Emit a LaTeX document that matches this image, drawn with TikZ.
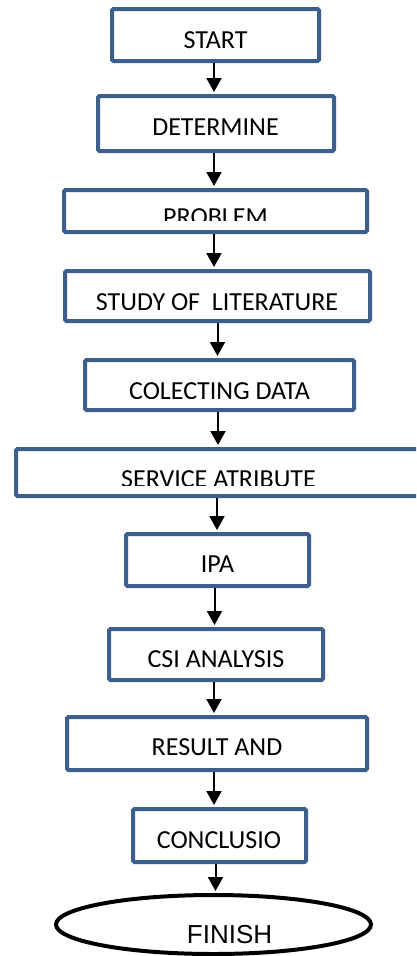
\documentclass[tikz,border=0pt]{standalone}
\usepackage{fontspec}
\setmainfont{Carlito}
\newfontfamily\arialfont{Liberation Sans}
\usetikzlibrary{arrows.meta,shapes.geometric}
\definecolor{boxblue}{RGB}{61,95,142}
\tikzset{
  boxnode/.style={draw=boxblue, line width=4pt, rounded corners=1.5pt, inner sep=0pt, fill=white},
  lbl/.style={anchor=base, inner sep=0pt, font=\fontsize{26}{30}\selectfont},
  arr/.style={line width=2pt, -{Triangle[length=14pt,width=15pt]}, shorten >=2pt}
}
\newcommand\mybox[5]{%
  \node[boxnode, minimum width={(#4-#2-4)*1pt}, minimum height={(#5-#3-4)*1pt}] (#1) at ({(#2+#4)/2},{(#3+#5)/2}) {};}
\begin{document}
\begin{tikzpicture}[x=1pt,y=-1pt]
\clip (0,0) rectangle (416,956);
\useasboundingbox (0,0) rectangle (416,956);
\fill[white] (0,0) rectangle (416,956);
\mybox{start}{110}{7}{321}{63}
\mybox{determine}{96}{94}{336}{153}
\mybox{problem}{62}{188}{369}{234}
\mybox{study}{63}{269}{372}{323}
\mybox{collect}{83}{358}{356}{412}
\mybox{service}{14}{447}{424}{498}
\mybox{ipa}{124}{532}{311}{588}
\mybox{csi}{107}{627}{325}{682}
\mybox{result}{65}{715}{369}{772}
\mybox{concl}{131}{807}{308}{864}
\node[draw=black, line width=4pt, ellipse, minimum width=315pt, minimum height=59pt, inner sep=0pt] (finish) at (213.5,924.5) {};
% labels
\node[lbl] (tstart) at (215.5,48.3) {START};
\node[lbl] (tdet) at (215.5,135) {DETERMINE};
\begin{scope}
\clip (60,180) rectangle (370,220);
\node[lbl] (tprob) at (215.5,225) {PROBLEM};
\end{scope}
\begin{scope}
\clip (60,260) rectangle (380,309);
\node[lbl] (tstudy) at (217,310) {STUDY OF\ \ LITERATURE};
\end{scope}
\begin{scope}
\clip (80,350) rectangle (360,398);
\node[lbl] (tcol) at (219.5,399) {COLECTING DATA};
\end{scope}
\begin{scope}
\clip (10,440) rectangle (416,485);
\node[lbl] (tserv) at (218.5,487) {SERVICE ATRIBUTE};
\end{scope}
\node[lbl] (tipa) at (217.5,572) {IPA};
\node[lbl] (tcsi) at (216,667) {CSI ANALYSIS};
\node[lbl] (tres) at (217,755) {RESULT AND};
\node[lbl] (tcon) at (219,848) {CONCLUSIO};
\node[lbl, font=\arialfont\fontsize{26}{30}\selectfont] (tfin) at (229.5,943) {FINISH};
% arrows
\draw[arr] ([xshift=-1.5pt]start.south) -- ([xshift=-1.5pt]start.south |- determine.north);
\draw[arr] ([xshift=-2pt]determine.south) -- ([xshift=-2pt]determine.south |- problem.north);
\draw[arr] ([xshift=-1.5pt]problem.south) -- ([xshift=-1.5pt]problem.south |- study.north);
\draw[arr] (study.south) -- (study.south |- collect.north);
\draw[arr] ([xshift=-1.5pt]collect.south) -- ([xshift=-1.5pt]collect.south |- service.north);
\draw[arr] ([xshift=-2pt]service.south) -- ([xshift=-2pt]service.south |- ipa.north);
\draw[arr] ([xshift=-3pt]ipa.south) -- ([xshift=-3pt]ipa.south |- csi.north);
\draw[arr] ([xshift=-2pt]csi.south) -- ([xshift=-2pt]csi.south |- result.north);
\draw[arr] ([xshift=-3pt]result.south) -- ([xshift=-3pt]result.south |- concl.north);
\draw[arr] ([xshift=-4pt]concl.south) -- ([xshift=-4pt]concl.south |- finish.north);
\end{tikzpicture}
\end{document}
